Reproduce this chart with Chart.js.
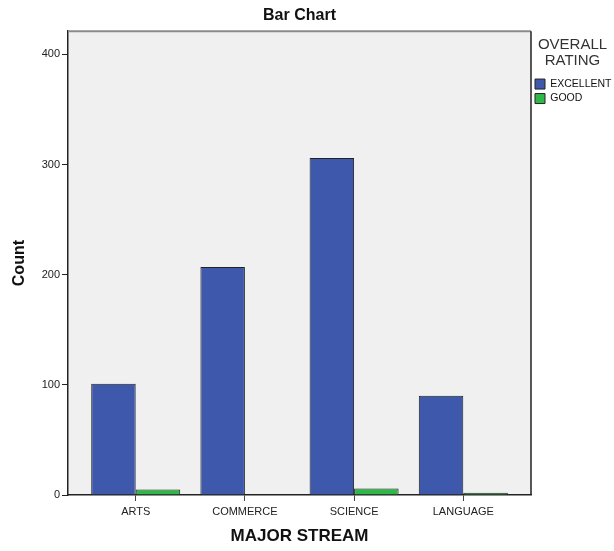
<!DOCTYPE html>
<html>
<head>
<meta charset="utf-8">
<script src="https://cdn.jsdelivr.net/npm/chart.js@4"></script>
<style>
  html, body { margin: 0; padding: 0; background: #fff; }
  #wrap { width: 614px; height: 551px; }
</style>
</head>
<body>
<div id="wrap"><canvas id="barChart"></canvas></div>
<script>
// Values
const streams = ['ARTS', 'COMMERCE', 'SCIENCE', 'LANGUAGE'];
const excellent = [101, 207, 306, 90];
const good = [5, 0, 6, 2];
const yTicks = [0, 100, 200, 300, 400];

// grey plot background and frame
const plotFrame = {
    id: 'plotFrame',
    beforeDraw(chart) {
        const { ctx, chartArea: a } = chart;
        ctx.save();
        ctx.fillStyle = '#f0f0f0';
        ctx.fillRect(a.left, a.top, a.right - a.left, a.bottom - a.top);
        ctx.restore();
    },
    afterDatasetsDraw(chart) {
        const { ctx, chartArea: a } = chart;
        ctx.save();
        ctx.strokeStyle = '#8a8a8a';
        ctx.lineWidth = 2;
        ctx.beginPath();
        ctx.moveTo(a.left, a.top);
        ctx.lineTo(a.right, a.top);
        ctx.stroke();
        ctx.strokeStyle = '#222';
        ctx.lineWidth = 1.5;
        ctx.beginPath();
        ctx.moveTo(a.right, a.top);
        ctx.lineTo(a.right, a.bottom);
        ctx.stroke();
        ctx.restore();
    }
};

const ctx = document.getElementById('barChart').getContext('2d');
const barChart = new Chart(ctx, {
    type: 'bar',
    data: {
        datasets: [
            {
                label: 'EXCELLENT',
                data: excellent.map((v, i) => ({ x: i, y: v })),
                backgroundColor: '#3e58ac',
                borderColor: '#222',
                borderWidth: 1
            },
            {
                label: 'GOOD',
                data: good.map((v, i) => ({ x: i, y: v })),
                backgroundColor: '#2eb848',
                borderColor: '#222',
                borderWidth: 1
            }
        ]
    },
    options: {
        responsive: true,
        maintainAspectRatio: false,
        animation: false,
        layout: { padding: { left: 0, right: 0, top: 0, bottom: 0 } },
        datasets: {
            bar: { categoryPercentage: 0.815, barPercentage: 1 }
        },
        plugins: {
            title: {
                display: true,
                text: 'Bar Chart',
                fullSize: false,
                color: '#111',
                font: { family: 'Arial, Liberation Sans', size: 16, weight: 'bold', lineHeight: 1.2 },
                padding: { top: 6, bottom: 6 }
            },
            legend: {
                position: 'right',
                align: 'start',
                maxWidth: 83,
                title: {
                    display: true,
                    text: ['OVERALL', 'RATING'],
                    color: '#333',
                    font: { family: 'Arial, Liberation Sans', size: 15, lineHeight: 1.12 },
                    padding: { top: 37, bottom: 21 }
                },
                labels: {
                    boxWidth: 10,
                    boxHeight: 10,
                    padding: 4,
                    color: '#111',
                    font: { family: 'Arial, Liberation Sans', size: 10.5 }
                }
            },
            tooltip: { enabled: false }
        },
        scales: {
            x: {
                type: 'linear',
                offset: false,
                min: -0.62,
                max: 3.62,
                afterBuildTicks: s => { s.ticks = streams.map((_, i) => ({ value: i })); },
                afterFit: s => { s.height = 56; },
                ticks: {
                    callback: v => streams[v],
                    color: '#222',
                    padding: 4,
                    font: { family: 'Arial, Liberation Sans', size: 11 }
                },
                grid: { display: true, offset: false, drawOnChartArea: false, tickLength: 6, color: '#444' },
                border: { display: true, color: '#222', width: 1.5 },
                title: {
                    display: true,
                    text: 'MAJOR STREAM',
                    color: '#111',
                    font: { family: 'Arial, Liberation Sans', size: 17, weight: 'bold' },
                    padding: { top: 5 }
                }
            },
            y: {
                min: 0,
                max: 421,
                afterBuildTicks: s => { s.ticks = yTicks.map(v => ({ value: v })); },
                afterFit: s => { s.width = 68; },
                ticks: {
                    color: '#222',
                    padding: 2,
                    font: { family: 'Arial, Liberation Sans', size: 11 }
                },
                grid: { display: true, drawOnChartArea: false, tickLength: 6, color: '#222' },
                border: { display: true, color: '#222', width: 1.5 },
                title: {
                    display: true,
                    text: 'Count',
                    color: '#111',
                    font: { family: 'Arial, Liberation Sans', size: 16, weight: 'bold' },
                    padding: { top: 10, bottom: 10 }
                }
            }
        }
    },
    plugins: [plotFrame]
});
</script>
</body>
</html>
